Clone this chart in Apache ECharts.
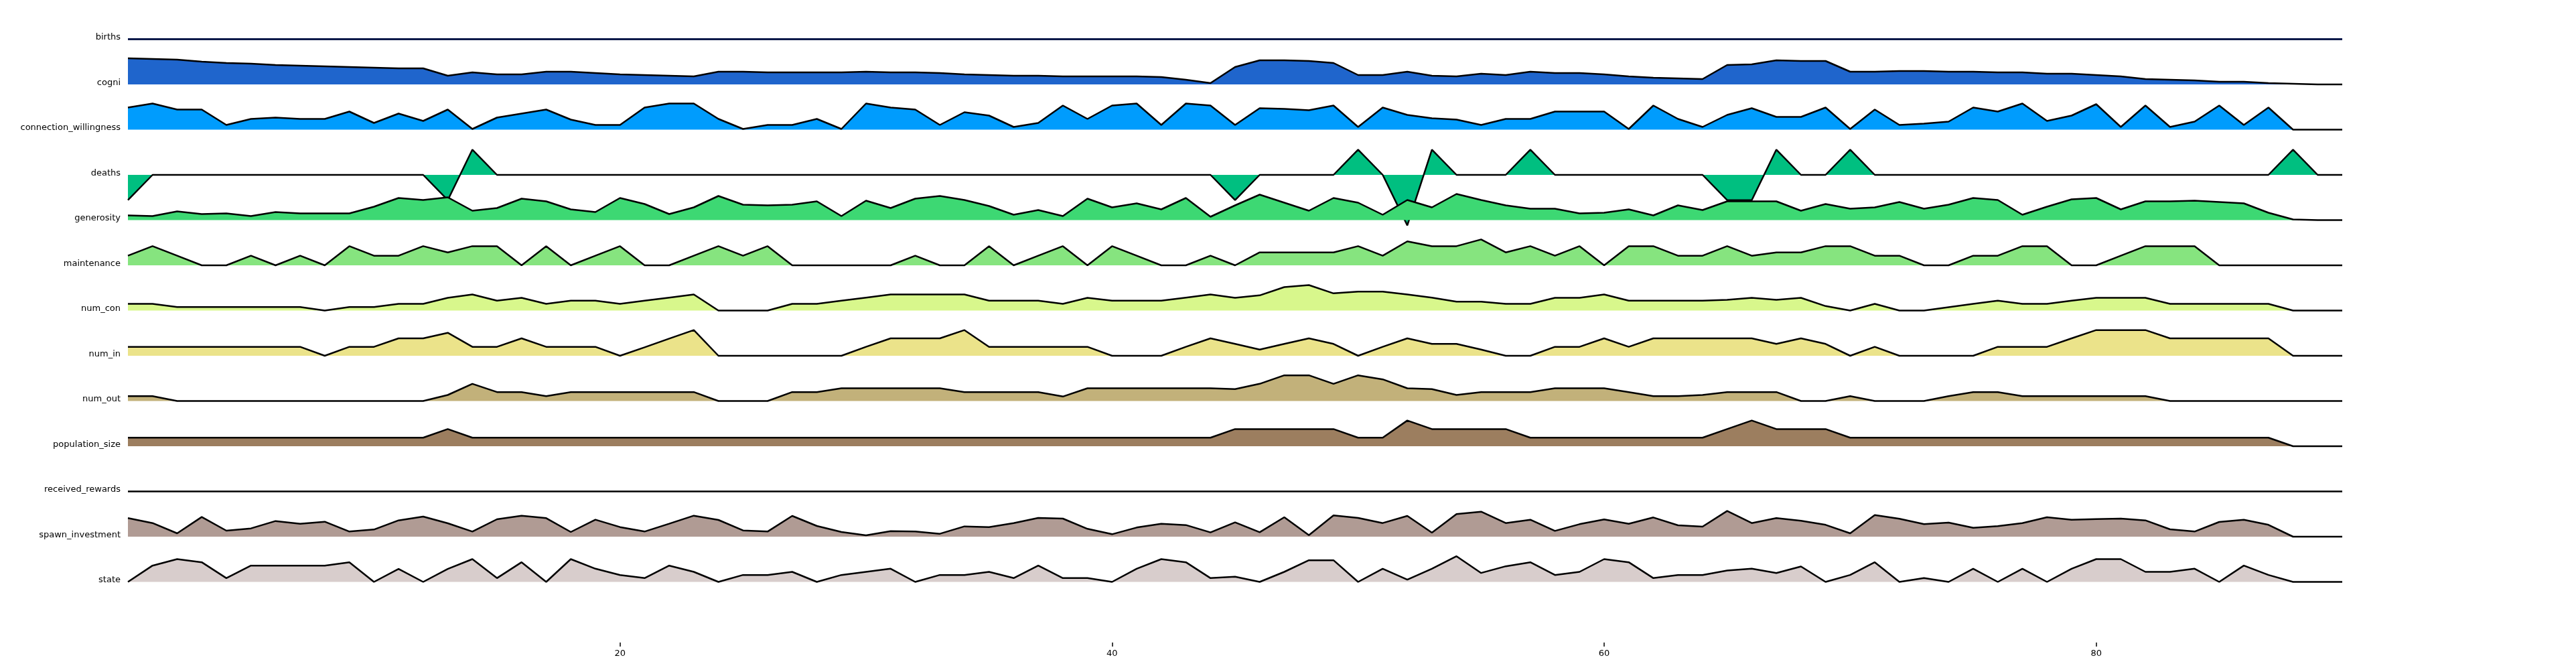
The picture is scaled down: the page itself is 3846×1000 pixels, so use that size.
<!DOCTYPE html>
<html>
<head>
<meta charset="utf-8">
<script src="https://cdn.jsdelivr.net/npm/echarts@6/dist/echarts.min.js"></script>
<style>html,body{margin:0;padding:0;background:#fff}#main{width:3846px;height:1000px}</style>
</head>
<body>
<div id="main"></div>
<script>
var myChart = echarts.init(document.getElementById('main'));

// step index 0..90
var steps = [];
for (var s = 0; s <= 90; s++) steps.push(s);

var names = ['births', 'cogni', 'connection_willingness', 'deaths', 'generosity', 'maintenance',
  'num_con', 'num_in', 'num_out', 'population_size', 'received_rewards', 'spawn_investment', 'state'];

var births = [0,0,0,0,0,0,0,0,0,0, 0,0,0,0,0,0,0,0,0,0, 0,0,0,0,0,0,0,0,0,0, 0,0,0,0,0,0,0,0,0,0,
  0,0,0,0,0,0,0,0,0,0, 0,0,0,0,0,0,0,0,0,0, 0,0,0,0,0,0,0,0,0,0, 0,0,0,0,0,0,0,0,0,0, 0,0,0,0,0,0,0,0,0,0,0];
var cogni = [39,38,37,34,32,31,29,28,27,26, 25,24,24,13,18,15,15,19,19,17, 15,14,13,12,19,19,18,18,18,18,
  19,18,18,17,15,14,13,13,12,12, 12,12,11,7,2,26,36,36,35,32, 14,14,19,13,12,16,14,19,17,17,
  15,12,10,9,8,29,30,36,35,35, 19,19,20,20,19,19,18,18,16,16, 14,12,8,7,6,4,4,2,1,0,0];
var connection_willingness = [33,39,30,30,7,16,18,16,16,27, 10,24,13,30,1,18,24,30,15,7, 7,33,39,39,16,1,7,7,16,1,
  39,33,30,7,26,21,4,10,36,16, 36,39,7,39,36,7,32,31,29,36, 4,33,22,17,15,7,16,16,27,27,
  27,1,36,16,4,22,32,19,19,33, 1,30,7,9,12,33,27,39,13,21, 38,4,36,4,12,36,7,33,0,0,0];
var deaths = [-1,0,0,0,0,0,0,0,0,0, 0,0,0,-1,1,0,0,0,0,0, 0,0,0,0,0,0,0,0,0,0, 0,0,0,0,0,0,0,0,0,0,
  0,0,0,0,0,-1,0,0,0,0, 1,0,-2,1,0,0,0,1,0,0, 0,0,0,0,0,-1,-1,1,0,0, 1,0,0,0,0,0,0,0,0,0, 0,0,0,0,0,0,0,0,1,0,0];
var generosity = [7,6,13,9,10,6,12,10,10,10, 20,33,30,34,14,18,32,28,16,12, 33,24,9,19,36,23,22,23,28,6,
  29,18,32,36,30,21,8,15,6,32, 19,25,16,33,5,22,38,26,14,33, 26,8,30,19,39,30,22,17,17,10,
  11,16,7,22,15,28,28,28,14,24, 17,19,27,17,23,33,30,8,20,31, 33,16,28,28,29,27,25,11,1,0,0];
var maintenance = [1,2,1,0,0,1,0,1,0,2, 1,1,2,1.35,2,2,0,2,0,1, 2,0,0,1,2,1,2,0,0,0, 0,0,1,0,0,2,0,1,2,0,
  2,1,0,0,1,0,1.35,1.35,1.35,1.35, 2,1,2.5,2,2,2.7,1.35,2,1,2, 0,2,2,1,1,2,1,1.35,1.35,2,
  2,1,1,0,0,1,1,2,2,0, 0,1,2,2,2,0,0,0,0,0,0];
var num_con = [30,30,16,16,16,16,16,16,0,16, 16,30,30,57,72,44,57,30,44,44, 30,44,58,72,0,0,0,30,30,44,
  58,72,72,72,72,44,44,44,30,57, 44,44,44,58,72,57,68,105,114,77, 85,85,72,58,40,40,30,30,57,57,
  72,44,44,44,44,48,57,48,57,20, 0,30,0,0,15,30,44,30,30,44, 57,57,57,30,30,30,30,30,0,0,0];
var num_in = [40,40,40,40,40,40,40,40,0,40, 40,78,78,103,40,40,78,40,40,40, 0,38,77,115,0,0,0,0,0,0,
  40,78,78,78,115,40,40,40,40,40, 0,0,0,40,78,53,28,53,78,53, 0,40,78,53,53,28,0,0,40,40,
  78,40,78,78,78,78,78,53,78,53, 0,40,0,0,0,0,40,40,40,78, 115,115,115,78,78,78,78,78,0,0,0];
var num_out = [22,22,0,0,0,0,0,0,0,0, 0,0,0,27,77,40,40,22,40,40, 40,40,40,40,0,0,0,40,40,57,
  57,57,57,57,40,40,40,40,20,57, 57,57,57,57,57,53,77,115,115,77, 115,97,57,53,27,40,40,40,57,57,
  57,40,22,22,27,40,40,40,0,0, 22,0,0,0,22,40,40,22,22,22, 22,22,22,0,0,0,0,0,0,0,0];
var population_size = [1,1,1,1,1,1,1,1,1,1, 1,1,1,2,1,1,1,1,1,1, 1,1,1,1,1,1,1,1,1,1, 1,1,1,1,1,1,1,1,1,1,
  1,1,1,1,1,2,2,2,2,2, 1,1,3,2,2,2,2,1,1,1, 1,1,1,1,1,2,3,2,2,2, 1,1,1,1,1,1,1,1,1,1, 1,1,1,1,1,1,1,1,0,0,0];
var received_rewards = births.slice();
var spawn_investment = [83,61,15,88,27,37,70,58,67,23, 32,73,90,60,23,78,94,83,21,76, 43,23,58,94,75,28,23,93,48,21,
  6,25,23,13,46,43,61,84,81,35, 11,41,58,52,19,64,20,87,7,95, 84,61,93,18,101,112,61,76,26,56,
  77,58,86,51,45,115,61,83,71,53, 15,97,80,56,63,40,47,61,87,76, 79,81,73,33,23,66,76,53,0,0,0];
var state = [0,73,102,88,17,73,73,73,73,88, 0,58,0,58,102,17,88,0,102,59, 31,17,73,45,0,31,31,45,0,31,
  45,59,0,31,31,45,17,73,17,17, 0,59,102,88,17,23,0,45,97,97, 0,59,10,59,115,40,70,88,31,45,
  102,88,17,31,31,51,59,40,69,0, 31,88,0,17,0,59,0,59,0,59, 102,102,45,45,59,0,73,31,0,0,0];

var tickValues = [20, 40, 60, 80];

var rows = [births, cogni, connection_willingness, deaths, generosity, maintenance,
  num_con, num_in, num_out, population_size, received_rewards, spawn_investment, state];
var colors = ['#0b1a4a', '#1f65cc', '#009cfd', '#00bf80', '#3dd873', '#86e47f',
  '#d8f78c', '#ebe38a', '#c2b17a', '#9c7e5f', '#000000', '#b09b94', '#d8cdcc'];
// pixels per data unit in each row
var pxPerUnit = [1, 1, 1, 37.7, 1, 14.3, 1/3, 1/3, 1/3, 12.8, 1, 1/3, 1/3];

var gridLeft = 191, gridRight = 349;
var grids = [], xAxes = [], yAxes = [], series = [], texts = [];
for (var i = 0; i < rows.length; i++) {
    var base = 58.5 + 67.5 * i;
    var up = 55, down = 100;
    grids.push({left: gridLeft, right: gridRight, top: base - up, height: up + down});
    xAxes.push({type: 'value', gridIndex: i, min: 0, max: 90, show: false});
    yAxes.push({type: 'value', gridIndex: i, min: -down / pxPerUnit[i], max: up / pxPerUnit[i], show: false});
    var filled = !(i === 0 || i === 10);
    series.push({
        name: names[i],
        type: 'line',
        xAxisIndex: i,
        yAxisIndex: i,
        data: steps.map(function (x, k) { return [x, rows[i][k]]; }),
        showSymbol: false,
        clip: false,
        lineStyle: {color: i === 0 ? colors[0] : '#000', width: i === 0 ? 3 : 2.5},
        areaStyle: filled ? {color: colors[i], opacity: 1, origin: 0} : undefined,
        z: 2 + i
    });
    texts.push({
        type: 'text', right: 3846 - 180, top: base - 9,
        style: {text: names[i], fontSize: 13, fontFamily: 'DejaVu Sans', fill: '#000'}
    });
}

// bottom axis with ticks only
grids.push({left: gridLeft, right: gridRight, top: 958, height: 1});
xAxes.push({
    type: 'value', gridIndex: rows.length, min: 0, max: 90,
    axisLine: {show: false}, splitLine: {show: false},
    axisTick: {show: true, length: 6, lineStyle: {color: '#000', width: 1.5}, customValues: tickValues},
    axisLabel: {show: true, margin: 10, fontSize: 13, fontFamily: 'DejaVu Sans', color: '#000', customValues: tickValues}
});
yAxes.push({type: 'value', gridIndex: rows.length, show: false});

option = {
    backgroundColor: '#fff',
    animation: false,
    grid: grids,
    xAxis: xAxes,
    yAxis: yAxes,
    series: series,
    graphic: texts
};

myChart.setOption(option);
</script>
</body>
</html>
